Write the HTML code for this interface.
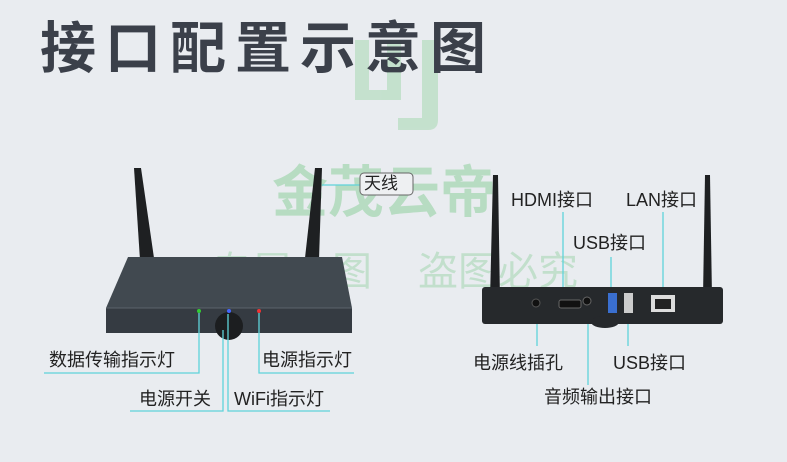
<!DOCTYPE html>
<html><head><meta charset="utf-8"><style>
body{margin:0;width:787px;height:462px;overflow:hidden;background:#e9ecf0;font-family:"Liberation Sans","Noto Sans CJK SC",sans-serif;}
.t{position:absolute;white-space:nowrap;color:#222;font-size:18px;line-height:20px}
</style></head><body>
<svg width="787" height="462" style="position:absolute;left:0;top:0">
<g fill="#8fd19a" opacity="0.4">
<path d="M355 40h14v50h18v-50h14v60h-46z"/><path d="M410 40h28v80q0 10-10 10h-30v-12h24v-78z"/>
</g>
<text x="272" y="212" font-size="56" fill="#7cc98b" opacity="0.45" font-family="Noto Sans CJK SC" font-weight="bold">金茂云帝</text>
<text x="212" y="285" font-size="40" fill="#7cc98b" opacity="0.35" font-family="Noto Sans CJK SC">专属主图</text>
<text x="418" y="285" font-size="40" fill="#7cc98b" opacity="0.35" font-family="Noto Sans CJK SC">盗图必究</text>
<polygon points="134,168 141,168 154,258 140,260" fill="#1e2022"/>
<polygon points="315,168 322,168 319,260 305,258" fill="#1e2022"/>
<polygon points="128,257 342,257 352,308 106,308" fill="#414950"/>
<rect x="106" y="308" width="246" height="25" fill="#353b42"/>
<line x1="106" y1="308" x2="352" y2="308" stroke="#5a636b"/>
<circle cx="229" cy="326" r="14" fill="#1c1e20"/>
<circle cx="199" cy="311" r="2" fill="#3c3"/><circle cx="229" cy="311" r="2" fill="#46f"/><circle cx="259" cy="311" r="2" fill="#e33"/>
<g stroke="#5fd3da" stroke-width="1.3" fill="none">
<polyline points="199,313 199,373 44,373"/>
<polyline points="259,313 259,373 354,373"/>
<polyline points="223,330 223,411 130,411"/>
<polyline points="228,314 228,411 330,411"/>
<line x1="322" y1="185" x2="360" y2="185"/>
<polyline points="537,307 537,346"/><polyline points="563,212 563,306"/>
<polyline points="588,305 588,385"/><polyline points="611,257 611,300"/>
<polyline points="628,305 628,346"/><polyline points="663,212 663,297"/>
</g>
<rect x="360" y="173" width="53" height="22" rx="4" fill="#eef0f2" stroke="#666"/>
<polygon points="493,175 498,175 500,300 490,300" fill="#1e2022"/>
<polygon points="705,175 710,175 712,297 703,297" fill="#1e2022"/>
<rect x="482" y="287" width="241" height="37" rx="3" fill="#26292c"/>
<ellipse cx="605" cy="322" rx="14" ry="6" fill="#26292c"/>
<circle cx="536" cy="303" r="4" fill="#111" stroke="#555"/>
<rect x="559" y="300" width="22" height="8" rx="2" fill="#111" stroke="#666"/>
<circle cx="587" cy="301" r="4" fill="#111" stroke="#666"/>
<rect x="608" y="293" width="9" height="20" fill="#3a6fd0"/>
<rect x="624" y="293" width="9" height="20" fill="#ccc"/>
<rect x="651" y="295" width="24" height="17" fill="#ddd"/><rect x="655" y="299" width="16" height="10" fill="#222"/>
</svg>
<div class="t" style="left:40px;top:14px;font-size:56px;font-weight:bold;color:#3b404a;letter-spacing:9px;line-height:70px">接口配置示意图</div>
<div class="t" style="left:364px;top:174px;font-size:17px">天线</div>
<div class="t" style="left:49px;top:350px">数据传输指示灯</div>
<div class="t" style="left:262px;top:350px">电源指示灯</div>
<div class="t" style="left:139px;top:389px">电源开关</div>
<div class="t" style="left:234px;top:389px">WiFi指示灯</div>
<div class="t" style="left:511px;top:190px">HDMI接口</div>
<div class="t" style="left:626px;top:190px">LAN接口</div>
<div class="t" style="left:573px;top:233px">USB接口</div>
<div class="t" style="left:473px;top:353px">电源线插孔</div>
<div class="t" style="left:613px;top:353px">USB接口</div>
<div class="t" style="left:544px;top:387px">音频输出接口</div>
</body></html>
